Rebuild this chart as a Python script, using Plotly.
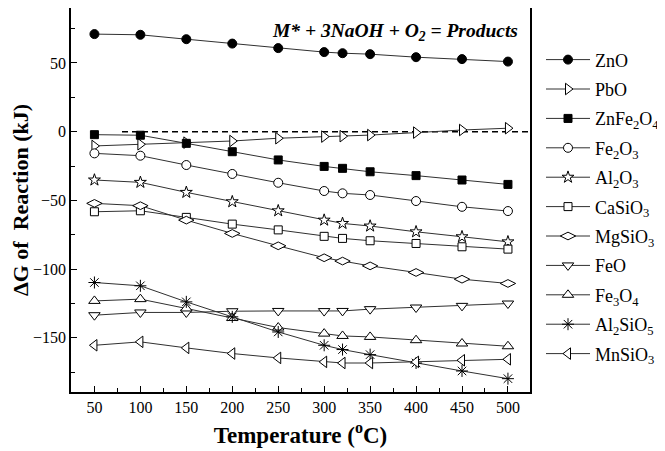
import plotly.graph_objects as go

temps = [50, 100, 150, 200, 250, 300, 320, 350, 400, 450, 500]

names = ["ZnO", "PbO", "ZnFe<sub>2</sub>O<sub>4</sub>", "Fe<sub>2</sub>O<sub>3</sub>",
         "Al<sub>2</sub>O<sub>3</sub>", "CaSiO<sub>3</sub>", "MgSiO<sub>3</sub>", "FeO",
         "Fe<sub>3</sub>O<sub>4</sub>", "Al<sub>2</sub>SiO<sub>5</sub>", "MnSiO<sub>3</sub>"]

zno = [71, 70.5, 67.3, 64.1, 60.8, 57.9, 57.1, 56.4, 54.2, 52.8, 51.0]
pbo = [-10.4, -9.2, -8.0, -6.8, -4.8, -3.6, -3.3, -2.5, -0.7, 1.2, 2.5]
znfe2o4 = [-2.2, -2.6, -8.5, -14.6, -20.6, -25.3, -26.7, -29.2, -32.0, -35.2, -38.4]
fe2o3 = [-15.8, -17.5, -24.3, -30.8, -37.2, -43.2, -44.9, -46.1, -50.5, -54.7, -57.8]
al2o3 = [-35.2, -36.9, -44.2, -51.0, -57.6, -64.4, -66.8, -68.7, -72.9, -76.5, -80.2]
casio3 = [-58.3, -57.6, -62.4, -67.3, -71.5, -76.2, -77.7, -79.4, -81.4, -83.8, -85.5]
mgsio3 = [-52.2, -53.9, -64.4, -74.1, -83.1, -91.8, -94.2, -97.7, -102.5, -107.4, -110.5]
feo = [-133.6, -131.6, -131.6, -130.7, -130.5, -130.6, -130.5, -129.2, -128.0, -126.8, -125.1]
fe3o4 = [-123.2, -121.9, -128.7, -135.6, -142.6, -147.0, -148.7, -149.4, -151.8, -154.2, -156.2]
al2sio5 = [-109.8, -112.2, -123.9, -134.8, -145.8, -155.5, -158.6, -162.3, -168.4, -174.2, -179.8]
mnsio3 = [-155.5, -153.0, -157.4, -161.5, -164.7, -167.6, -168.4, -168.4, -167.6, -166.4, -165.7]

series = [zno, pbo, znfe2o4, fe2o3, al2o3, casio3, mgsio3, feo, fe3o4, al2sio5, mnsio3]

symbols = ["circle", "triangle-right", "square", "circle", "star", "square",
           "diamond-wide", "triangle-down", "triangle-up", "asterisk-open", "triangle-left"]
filled = [True, False, True, False, False, False, False, False, False, False, False]
sizes = [9, 10, 8, 9, 9, 8, 11, 10, 10, 10, 10]

zero_x = [80, 524]
zero_y = [0, 0]

xticks = [50, 100, 150, 200, 250, 300, 350, 400, 450, 500]
yticks = [-150, -100, -50, 0, 50]

font = "Times New Roman, Liberation Serif, DejaVu Serif, serif"

fig = go.Figure()

fig.add_trace(go.Scatter(x=zero_x, y=zero_y, mode="lines", showlegend=False,
                         line=dict(color="black", width=1.5, dash="6px,4px"),
                         hoverinfo="skip"))

for i, (nm, ys) in enumerate(zip(names, series)):
    sym = symbols[i]
    if sym == "asterisk-open":
        marker = dict(symbol=sym, size=sizes[i], color="black",
                      line=dict(color="black", width=1))
    else:
        marker = dict(symbol=sym, size=sizes[i],
                      color="black" if filled[i] else "white",
                      line=dict(color="black", width=1))
    fig.add_trace(go.Scatter(
        x=temps, y=ys, name=nm, mode="lines+markers",
        line=dict(color="#303030", width=1),
        marker=marker, legendgroup="g%d" % i,
    ))

fig.add_annotation(
    x=0.978, y=0.975, xref="paper", yref="paper", xanchor="right", yanchor="top",
    text="<b><i>M* + 3NaOH + O<sub>2</sub> = Products</i></b>", showarrow=False,
    font=dict(family=font, size=19.5, color="black"),
)

axis_common = dict(
    showline=True, linecolor="black", linewidth=1.5, mirror=True,
    ticks="inside", ticklen=6, tickwidth=1.2, tickcolor="black",
    showgrid=False, zeroline=False, automargin=False,
    tickfont=dict(family=font, size=16, color="black"),
)

fig.update_layout(
    width=657, height=443,
    margin=dict(l=63, r=126, t=0, b=59),
    plot_bgcolor="white", paper_bgcolor="white",
    font=dict(family=font, color="black"),
    xaxis=dict(range=[24.5, 524], tickvals=xticks,
               minor=dict(ticks="inside", ticklen=4, tickwidth=1, tickcolor="black", dtick=25, tick0=25),
               title=dict(text="<b>Temperature (<sup>o</sup>C)</b>",
                          font=dict(family=font, size=23, color="black"), standoff=12),
               **axis_common),
    yaxis=dict(range=[-189.5, 90], tickvals=yticks,
               minor=dict(ticks="inside", ticklen=4, tickwidth=1, tickcolor="black", dtick=25, tick0=25),
               title=dict(text="<b>ΔG of  Reaction (kJ)</b>",
                          font=dict(family=font, size=22, color="black"), standoff=8),
               **axis_common),
    legend=dict(x=1.025, y=0.913, xanchor="left", yanchor="top", itemwidth=44,
                font=dict(family=font, size=18, color="black"),
                tracegroupgap=3, bgcolor="rgba(0,0,0,0)", borderwidth=0),
)

fig.write_html("out.html")
